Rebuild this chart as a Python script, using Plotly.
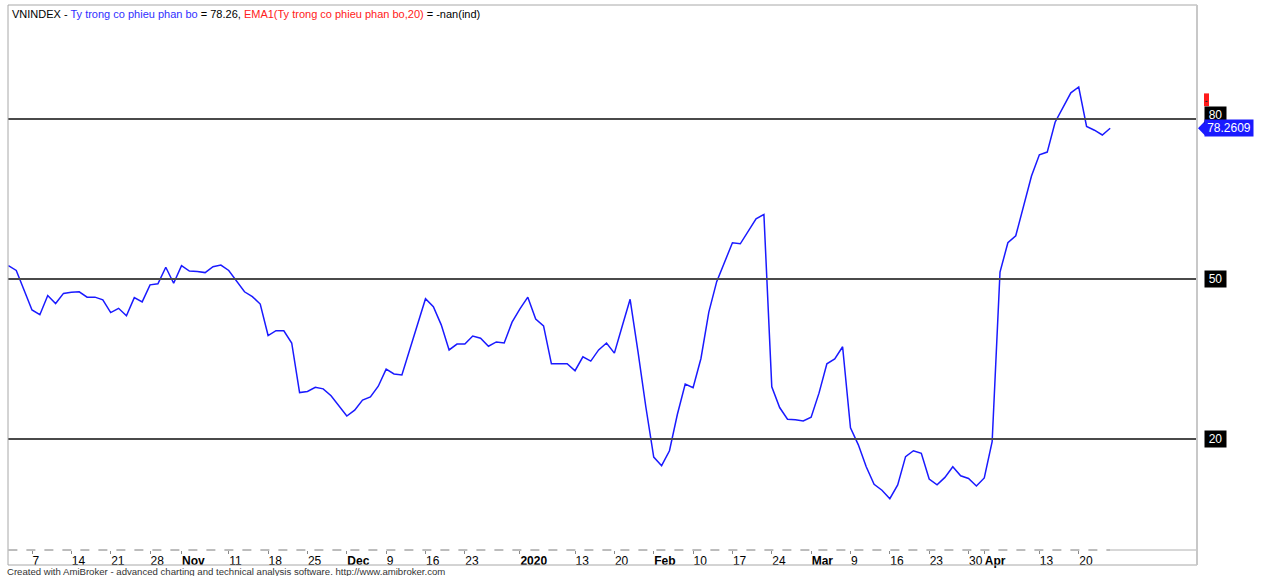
import pandas as pd
import plotly.graph_objects as go

# ---------------- data ----------------
start_date = "2019-10-02"
end_date = "2020-04-24"
holidays = ["2020-01-01", "2020-01-23", "2020-01-24", "2020-01-27",
            "2020-01-28", "2020-01-29", "2020-04-02"]

values = [
    52.5, 51.6, 47.9, 44.2, 43.3, 46.9, 45.4, 47.3, 47.5, 47.6,
    46.6, 46.6, 46.1, 43.7, 44.5, 43.1, 46.5, 45.7, 48.9, 49.1,
    52.2, 49.2, 52.5, 51.5, 51.4, 51.2, 52.3, 52.6, 51.6, 49.6,
    47.6, 46.7, 45.3, 39.4, 40.3, 40.3, 38.0, 28.7, 28.9, 29.7,
    29.4, 28.1, 26.2, 24.3, 25.4, 27.3, 27.9, 29.9, 33.1, 32.2,
    32.0, 36.9, 41.4, 46.3, 44.8, 41.4, 36.7, 37.8, 37.8, 39.3,
    38.9, 37.4, 38.2, 38.0, 41.9, 44.4, 46.6, 42.5, 41.2, 34.1,
    34.1, 34.1, 32.8, 35.4, 34.6, 36.7, 38.0, 36.1, 41.2, 46.2,
    36.4, 26.0, 16.6, 15.0, 17.8, 24.6, 30.3, 29.6, 35.1, 43.8,
    49.5, 53.1, 56.8, 56.6, 59.0, 61.3, 62.1, 29.8, 25.9, 23.7,
    23.6, 23.4, 24.1, 28.6, 34.1, 35.0, 37.3, 22.1, 18.9, 14.8,
    11.5, 10.4, 8.8, 11.4, 16.7, 17.8, 17.3, 12.5, 11.4, 12.8,
    14.8, 13.1, 12.6, 11.2, 12.7, 19.5, 51.3, 56.8, 58.1, 63.9,
    69.3, 73.3, 73.8, 79.4, 82.3, 84.9, 86.0, 78.6, 77.9, 77.0,
    78.26,
]

tick_dates = ["2019-10-07", "2019-10-14", "2019-10-21", "2019-10-28", "2019-11-01",
              "2019-11-11", "2019-11-18", "2019-11-25", "2019-12-02", "2019-12-09",
              "2019-12-16", "2019-12-23", "2020-01-02", "2020-01-13", "2020-01-20",
              "2020-02-03", "2020-02-10", "2020-02-17", "2020-02-24", "2020-03-02",
              "2020-03-09", "2020-03-16", "2020-03-23", "2020-03-30", "2020-04-01",
              "2020-04-13", "2020-04-20"]
tick_labels = ["7", "14", "21", "28", "<b>Nov</b>", "11", "18", "25", "<b>Dec</b>", "9",
               "16", "23", "<b>2020</b>", "13", "20", "<b>Feb</b>", "10", "17", "24",
               "<b>Mar</b>", "9", "16", "23", "30", "<b>Apr</b>", "13", "20"]

levels = [80, 50, 20]
last_value_label = "78.2609"

# ---------------- build ----------------
dates = pd.bdate_range(start_date, end_date)
dates = dates[~dates.isin(pd.to_datetime(holidays))]
dates = list(dates)
idx = list(range(len(dates)))
date_pos = {d.strftime("%Y-%m-%d"): i for i, d in enumerate(dates)}
tick_vals = [date_pos[d] for d in tick_dates]

W, H = 1263, 576
ml, mr, mt, mb = 8, 66, 5, 26
plot_h = H - mt - mb
px_per_unit = 160 / 30.0
y_top = 80 + (119 - mt) / px_per_unit
y_bot = y_top - plot_h / px_per_unit
x_max = (W - ml - mr) / 7.87

FONT = "Liberation Sans, Arial, sans-serif"

fig = go.Figure()
fig.add_trace(go.Scatter(
    x=idx, y=values, mode="lines",
    line=dict(color="#1a1aff", width=1.5),
    hoverinfo="skip", showlegend=False,
))

shapes = []
for lv in levels:
    shapes.append(dict(type="line", xref="paper", yref="y", x0=0, x1=1, y0=lv, y1=lv,
                       line=dict(color="#4a4a4a", width=2)))
# x-axis dashed line
shapes.append(dict(type="line", xref="x", yref="paper", x0=0, x1=len(idx) - 1, y0=0, y1=0,
                   line=dict(color="#7a7a7a", width=1, dash="dash")))
shapes.append(dict(type="line", xref="x", yref="paper", x0=len(idx) - 1, x1=x_max, y0=0, y1=0,
                   line=dict(color="#b0b0b0", width=1)))
# outer frame extending over the label row
box_bottom = -(565 - (H - mb)) / plot_h
shapes.append(dict(type="rect", xref="paper", yref="paper", x0=0, x1=1, y0=box_bottom, y1=1,
                   line=dict(color="#a8a8a8", width=1)))
shapes.append(dict(type="line", xref="paper", yref="paper", x0=1, x1=1, y0=box_bottom, y1=1,
                   line=dict(color="#c8c8c8", width=2)))
# blue arrow for last value
pw = W - ml - mr
xa = 1 + 1 / pw
xb = 1 + 8 / pw
shapes.append(dict(type="path", xref="paper", yref="y",
                   path=f"M {xa},{values[-1]} L {xb},{values[-1] + 1.35} L {xb},{values[-1] - 1.35} Z",
                   fillcolor="#1a1aff", line=dict(width=0)))
# red marker
shapes.append(dict(type="rect", xref="paper", yref="y", x0=1 + 7 / pw, x1=1 + 12 / pw,
                   y0=82.4, y1=84.8, fillcolor="#ff1a1a", line=dict(width=0)))
shapes.append(dict(type="line", xref="paper", yref="y", x0=1 + 8.5 / pw, x1=1 + 10.5 / pw,
                   y0=83.3, y1=83.3, line=dict(color="#222", width=1)))

annotations = []
for lv in levels:
    shift = 4 if lv == 80 else 0
    annotations.append(dict(xref="paper", yref="y", x=1, y=lv, xanchor="left", yanchor="middle",
                            xshift=7, yshift=shift, text=str(lv), showarrow=False,
                            width=19, align="center",
                            font=dict(family=FONT, size=12, color="white"),
                            bgcolor="black", borderpad=1))
annotations.append(dict(xref="paper", yref="y", x=1, y=values[-1], xanchor="left", yanchor="middle",
                        xshift=7, text=last_value_label, showarrow=False,
                        width=46, align="center",
                        font=dict(family=FONT, size=12, color="white"),
                        bgcolor="#1a1aff", borderpad=1))
title_html = ("VNINDEX - <span style='color:#3030ff'>Ty trong co phieu phan bo</span> = 78.26, "
              "<span style='color:#ff2020'>EMA1(Ty trong co phieu phan bo,20)</span> = -nan(ind)")
annotations.append(dict(xref="paper", yref="paper", x=1.5 / pw, y=1 - 9 / plot_h,
                        xanchor="left", yanchor="middle", text=title_html, showarrow=False,
                        font=dict(family=FONT, size=11, color="black")))
annotations.append(dict(xref="paper", yref="paper", x=-3 / pw, y=-(571 - (H - mb)) / plot_h,
                        xanchor="left", yanchor="middle",
                        text="Created with AmiBroker - advanced charting and technical analysis software. http://www.amibroker.com",
                        showarrow=False, font=dict(family=FONT, size=9.6, color="#333333")))

fig.update_layout(
    width=W, height=H,
    margin=dict(l=ml, r=mr, t=mt, b=mb, autoexpand=False),
    paper_bgcolor="white", plot_bgcolor="white",
    shapes=shapes, annotations=annotations,
    showlegend=False,
    xaxis=dict(range=[-0.05, x_max - 0.05], showgrid=False, zeroline=False, showline=False,
               tickmode="array", tickvals=tick_vals, ticktext=tick_labels,
               ticks="outside", ticklen=3, tickcolor="#8a8a8a", tickwidth=1,
               tickangle=0, automargin=False,
               ticklabelposition="outside right",
               tickfont=dict(family=FONT, size=12, color="black")),
    yaxis=dict(range=[y_bot, y_top], showgrid=False, zeroline=False, showline=False,
               showticklabels=False, ticks="", automargin=False),
)

fig.write_html("out.html", config={"displayModeBar": False},
               post_script="document.body.style.margin='0';document.body.style.padding='0';")
